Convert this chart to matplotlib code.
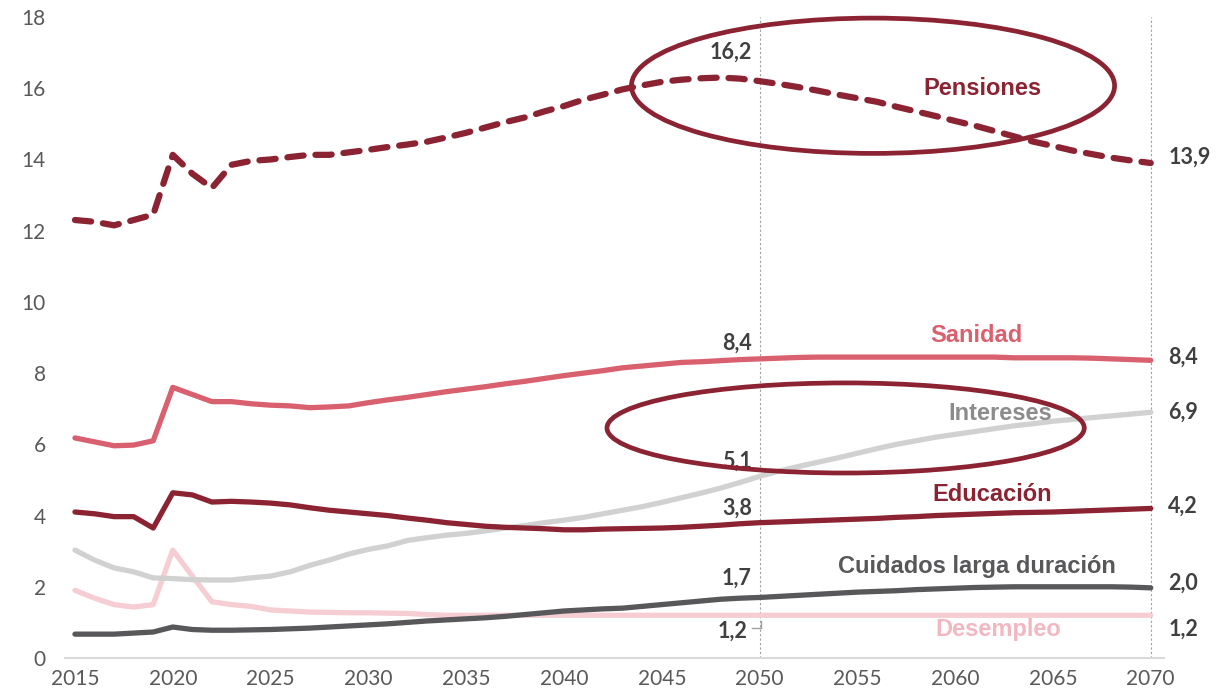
import matplotlib
matplotlib.use("Agg")
import matplotlib.pyplot as plt
from matplotlib.patches import Ellipse

years = list(range(2015, 2071))

pensiones = [12.3, 12.25, 12.15, 12.3, 12.45, 14.13, 13.6, 13.2, 13.85, 13.96,
             14.0, 14.07, 14.13, 14.13, 14.2, 14.27, 14.35, 14.42, 14.5, 14.62,
             14.75, 14.9, 15.05, 15.18, 15.35, 15.5, 15.68, 15.82, 15.97, 16.08,
             16.18, 16.24, 16.28, 16.3, 16.27, 16.2, 16.12, 16.03, 15.93, 15.82,
             15.72, 15.62, 15.48, 15.35, 15.22, 15.08, 14.95, 14.8, 14.65, 14.5,
             14.38, 14.25, 14.15, 14.05, 13.97, 13.9]

sanidad = [6.18, 6.07, 5.96, 5.98, 6.1, 7.6, 7.4, 7.2, 7.2, 7.14,
           7.1, 7.08, 7.03, 7.05, 7.08, 7.17, 7.25, 7.32, 7.4, 7.48,
           7.55, 7.62, 7.7, 7.77, 7.85, 7.93, 8.0, 8.07, 8.15, 8.2,
           8.25, 8.3, 8.32, 8.35, 8.38, 8.4, 8.42, 8.44, 8.45, 8.45,
           8.45, 8.45, 8.45, 8.45, 8.45, 8.45, 8.45, 8.45, 8.43, 8.43,
           8.43, 8.43, 8.42, 8.4, 8.38, 8.36]

intereses = [3.03, 2.75, 2.53, 2.42, 2.25, 2.23, 2.2, 2.19, 2.19, 2.25,
             2.3, 2.42, 2.6, 2.75, 2.92, 3.05, 3.15, 3.3, 3.38, 3.45,
             3.5, 3.57, 3.65, 3.72, 3.8, 3.87, 3.95, 4.05, 4.15, 4.25,
             4.37, 4.5, 4.63, 4.77, 4.93, 5.1, 5.25, 5.38, 5.5, 5.62,
             5.75, 5.88, 6.0, 6.1, 6.2, 6.28, 6.36, 6.44, 6.52, 6.58,
             6.65, 6.7, 6.75, 6.8, 6.85, 6.9]

educacion = [4.1, 4.05, 3.97, 3.97, 3.65, 4.64, 4.58, 4.38, 4.4, 4.38,
             4.35, 4.3, 4.22, 4.15, 4.1, 4.05, 4.0, 3.93, 3.87, 3.8,
             3.75, 3.7, 3.67, 3.65, 3.63, 3.6, 3.6, 3.62, 3.63, 3.64,
             3.65, 3.67, 3.7, 3.73, 3.77, 3.8, 3.82, 3.84, 3.86, 3.88,
             3.9, 3.92, 3.95, 3.97, 4.0, 4.02, 4.04, 4.06, 4.08, 4.09,
             4.1, 4.12, 4.14, 4.16, 4.18, 4.2]

cuidados = [0.67, 0.67, 0.67, 0.7, 0.73, 0.87, 0.8, 0.78, 0.78, 0.79,
            0.8, 0.82, 0.84, 0.87, 0.9, 0.93, 0.96, 1.0, 1.04, 1.07,
            1.1, 1.13, 1.17, 1.22, 1.27, 1.32, 1.35, 1.38, 1.4, 1.45,
            1.5, 1.55, 1.6, 1.65, 1.68, 1.7, 1.73, 1.76, 1.79, 1.82,
            1.85, 1.87, 1.89, 1.92, 1.94, 1.96, 1.98, 1.99, 2.0, 2.0,
            2.0, 2.0, 2.0, 2.0, 1.99, 1.97]

desempleo = [1.9, 1.68, 1.5, 1.43, 1.5, 3.03, 2.3, 1.58, 1.5, 1.45,
             1.35, 1.32, 1.29, 1.28, 1.27, 1.27, 1.26, 1.25, 1.22, 1.2,
             1.2, 1.2, 1.2, 1.2, 1.2, 1.2, 1.2, 1.2, 1.2, 1.2,
             1.2, 1.2, 1.2, 1.2, 1.2, 1.2, 1.2, 1.2, 1.2, 1.2,
             1.2, 1.2, 1.2, 1.2, 1.2, 1.2, 1.2, 1.2, 1.2, 1.2,
             1.2, 1.2, 1.2, 1.2, 1.2, 1.2]

xticks = list(range(2015, 2071, 5))
yticks = list(range(0, 19, 2))

# value labels at 2050 and 2070
labels_2050 = [("16,2", 16.2), ("8,4", 8.4), ("5,1", 5.1), ("3,8", 3.8), ("1,7", 1.7)]
labels_2070 = [("13,9", 13.9), ("8,4", 8.4), ("6,9", 6.9), ("4,2", 4.2), ("2,0", 2.0), ("1,2", 1.2)]

C_PEN = "#8B2332"
C_SAN = "#D9606F"
C_INT = "#D0D1D0"
C_EDU = "#8B2332"
C_CUI = "#58585A"
C_DES = "#F5CDD3"

fig = plt.figure(figsize=(12.3, 6.98), dpi=100)
ax = fig.add_axes([0.053, 0.0573, 0.8937, 0.9183])

ax.plot(years, desempleo, color=C_DES, lw=3.8, solid_capstyle="round", zorder=2)
ax.plot(years, intereses, color=C_INT, lw=3.8, solid_capstyle="round", zorder=2)
ax.plot(years, cuidados, color=C_CUI, lw=3.8, solid_capstyle="round", zorder=3)
ax.plot(years, educacion, color=C_EDU, lw=3.8, solid_capstyle="round", zorder=3)
ax.plot(years, sanidad, color=C_SAN, lw=3.8, solid_capstyle="round", zorder=3)
ax.plot(years, pensiones, color=C_PEN, lw=4.5, dashes=(2.6, 1.9),
        dash_capstyle="round", zorder=3)

for xv in (2050, 2070):
    ax.plot([xv, xv], [0, 18], color="#A0A0A0", lw=0.8, ls=(0, (2, 2)), zorder=1,
            clip_on=False)

ax.set_xlim(2014.5, 2070.7)
ax.set_ylim(0, 18)
ax.set_xticks(xticks)
ax.set_yticks(yticks)
ax.tick_params(length=0, labelsize=15, colors="#595959")
ax.tick_params(axis="x", pad=8)
ax.tick_params(axis="y", pad=14)
for lab in ax.get_xticklabels() + ax.get_yticklabels():
    lab.set_fontfamily("Lato")
for s in ("top", "right", "left"):
    ax.spines[s].set_visible(False)
ax.spines["bottom"].set_color("#D9D9D9")
ax.spines["bottom"].set_linewidth(1.5)

vfont = dict(family="Lato", fontweight="bold", fontsize=15.5, color="#404040")
offs = {"16,2": 0.8, "8,4": 0.45, "5,1": 0.43, "3,8": 0.4, "1,7": 0.55}
for txt, yv in labels_2050:
    ax.text(2049.6, yv + offs[txt], txt, ha="right", va="center", **vfont)
ax.text(2049.4, 0.75, "1,2", ha="right", va="center", **vfont)
ax.plot([2049.6, 2050.05, 2050.05], [0.85, 0.85, 1.05], color="#A0A0A0", lw=1)

offs70 = {"13,9": 0.15, "8,4": 0.05, "6,9": 0.0, "4,2": 0.05, "2,0": 0.1, "1,2": -0.4}
for txt, yv in labels_2070:
    ax.text(2070.9, yv + offs70[txt], txt, ha="left", va="center", clip_on=False, **vfont)

nfont = dict(family="Liberation Sans", fontweight="bold", fontsize=17)
ax.text(2061.4, 16.0, "Pensiones", color=C_PEN, ha="center", va="center", **nfont)
ax.text(2061.1, 9.05, "Sanidad", color=C_SAN, ha="center", va="center", **nfont)
ax.text(2062.3, 6.88, "Intereses", color="#8C8C8C", ha="center", va="center", **nfont)
ax.text(2061.9, 4.6, "Educación", color=C_EDU, ha="center", va="center", **nfont)
ax.text(2061.1, 2.56, "Cuidados larga duración", color=C_CUI, ha="center", va="center", **nfont)
ax.text(2062.2, 0.79, "Desempleo", color="#F2B8C2", ha="center", va="center", **nfont)

ax.add_patch(Ellipse((2055.8, 16.07), 24.7, 3.8, fill=False, ec=C_PEN, lw=3.4,
                     zorder=4, clip_on=False))
ax.add_patch(Ellipse((2054.4, 6.46), 24.4, 2.53, fill=False, ec=C_PEN, lw=3.4,
                     zorder=4, clip_on=False))

fig.savefig("out.png", dpi=100)
